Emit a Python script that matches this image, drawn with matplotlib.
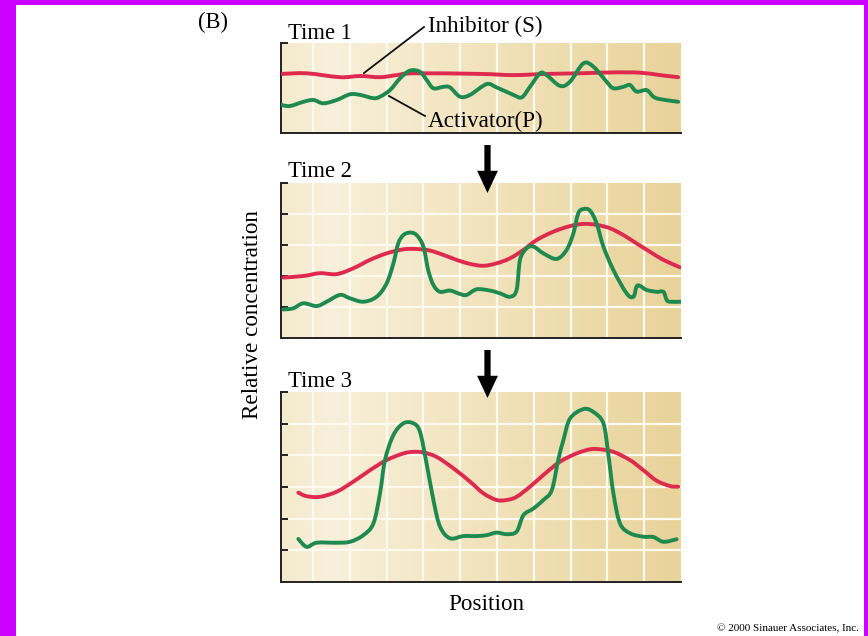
import numpy as np
import matplotlib
matplotlib.use("Agg")
import matplotlib.pyplot as plt
from matplotlib.patches import Rectangle, PathPatch, FancyArrowPatch
from matplotlib.path import Path
from matplotlib.colors import LinearSegmentedColormap

# ---------------- data (position 0-100, relative concentration) ----------------
t1_inh_x = [0.2, 6.4, 14.75, 19.75, 24.75, 28.9, 33.1, 49.75, 58.1, 66.4, 74.75, 83.1, 89.75, 94.75, 99.3]
t1_inh_y = [1.97, 1.99, 1.86, 1.90, 1.86, 1.93, 1.99, 1.97, 1.93, 1.97, 1.99, 2.02, 2.01, 1.93, 1.86]

t1_act_x = [0.2, 2.25, 5.6, 8.1, 10.6, 13.9, 17.25, 19.75, 23.1, 24.75, 27.25, 29.75, 32.25, 34.75,
            36.4, 38.1, 40.6, 42.25, 44.75, 47.25, 51.4, 53.9, 58.1, 60.2, 62.25, 64.75, 66.4, 69.75,
            72.25, 75.6, 78.1, 81.4, 83.1, 85.6, 87.25, 88.9, 91.4, 93.1, 94.75, 99.3]
t1_act_y = [0.93, 0.90, 1.04, 1.10, 0.99, 1.10, 1.29, 1.27, 1.16, 1.21, 1.43, 1.82, 2.08, 2.04,
            1.77, 1.49, 1.54, 1.52, 1.21, 1.27, 1.63, 1.52, 1.27, 1.19, 1.54, 1.99, 1.93, 1.57,
            1.71, 2.32, 2.21, 1.71, 1.49, 1.54, 1.60, 1.38, 1.43, 1.21, 1.13, 1.04]

t2_inh_x = [0.6, 5.6, 9.75, 13.9, 18.1, 22.25, 26.4, 30.6, 33.9, 37.25, 40.6, 43.9, 47.25, 50.6,
            53.9, 57.25, 60.6, 63.9, 68.1, 72.25, 75.6, 78.9, 82.25, 85.6, 88.9, 92.25, 95.6, 99.75]
t2_inh_y = [1.95, 2.00, 2.09, 2.06, 2.25, 2.52, 2.73, 2.86, 2.87, 2.82, 2.68, 2.52, 2.39, 2.33,
            2.41, 2.57, 2.84, 3.16, 3.43, 3.61, 3.68, 3.65, 3.54, 3.32, 3.05, 2.78, 2.52, 2.28]

t2_act_x = [0.6, 3.1, 5.6, 8.9, 11.4, 14.75, 17.25, 20.6, 23.9, 26.4, 28.1, 29.3, 30.6, 32.25,
            33.9, 35.6, 36.8, 38.1, 39.75, 42.25, 44.75, 46.4, 48.9, 52.25, 54.75, 57.25, 58.9,
            59.75, 61.4, 63.1, 65.6, 68.9, 71.4, 73.1, 74.3, 75.6, 77.25, 78.9, 80.6, 83.1, 86.4,
            88.1, 88.9, 89.75, 91.4, 93.9, 95.6, 96.4, 97.25, 99.9]
t2_act_y = [0.92, 0.96, 1.12, 1.03, 1.17, 1.39, 1.28, 1.17, 1.33, 1.76, 2.41, 3.05, 3.32, 3.40,
            3.32, 2.95, 2.19, 1.71, 1.49, 1.53, 1.42, 1.39, 1.57, 1.53, 1.44, 1.33, 1.55,
            2.52, 2.89, 2.95, 2.73, 2.55, 2.84, 3.38, 4.02, 4.16, 4.11, 3.70, 2.95, 2.19, 1.44,
            1.33, 1.66, 1.68, 1.55, 1.49, 1.49, 1.23, 1.17, 1.17]

t3_inh_x = [4.33, 6.4, 9.75, 13.9, 18.1, 22.25, 26.4, 30.6, 33.1, 35.6, 38.9, 43.1, 47.25, 50.6,
            53.9, 56.4, 58.9, 62.25, 65.6, 69.75, 73.9, 77.25, 79.75, 83.1, 87.25, 90.6, 93.9, 97.25, 99.3]
t3_inh_y = [2.82, 2.71, 2.69, 2.85, 3.17, 3.53, 3.85, 4.06, 4.11, 4.09, 3.95, 3.59, 3.17, 2.80,
            2.59, 2.59, 2.69, 3.01, 3.38, 3.80, 4.06, 4.19, 4.19, 4.11, 3.85, 3.53, 3.20, 3.03, 3.01]

t3_act_x = [4.33, 6.4, 8.9, 13.9, 17.25, 20.6, 23.1, 24.75, 26.0, 28.1, 30.6, 33.1, 34.75, 36.4,
            38.1, 39.75, 42.25, 45.6, 48.9, 51.4, 53.9, 56.4, 58.9, 60.6, 63.1, 65.6, 67.7, 69.3,
            70.6, 72.25, 75.6, 78.1, 80.6, 81.8, 83.1, 84.75, 87.25, 90.6, 93.1, 95.6, 98.9]
t3_act_y = [1.36, 1.11, 1.24, 1.24, 1.27, 1.48, 1.85, 2.80, 3.85, 4.64, 5.01, 5.01, 4.74, 3.74,
            2.59, 1.75, 1.38, 1.45, 1.45, 1.48, 1.56, 1.51, 1.59, 2.11, 2.32, 2.59, 2.90, 3.85,
            4.48, 5.16, 5.46, 5.37, 5.01, 4.06, 2.80, 1.85, 1.54, 1.43, 1.42, 1.27, 1.35]

panel_titles = ["Time 1", "Time 2", "Time 3"]
inh_label = "Inhibitor (S)"
act_label = "Activator(P)"
ylabel = "Relative concentration"
xlabel = "Position"
copyright_txt = "\u00a9 2000 Sinauer Associates, Inc."

# ---------------- style ----------------
W, H = 868, 636
RED = "#de2a4e"
GREEN = "#1f8a4f"
SERIF = ["Liberation Serif", "DejaVu Serif"]
FS = 16.3

fig = plt.figure(figsize=(W / 100, H / 100), dpi=100)
fig.patch.set_facecolor("white")


def fx(px):
    return px / W


def fy(py):
    return 1 - py / H


def smooth_path(xs, ys):
    """Catmull-Rom curve through the read points, drawn as cubic Bezier segments."""
    p = np.column_stack([xs, ys]).astype(float)
    n = len(p)
    verts = [p[0]]
    codes = [Path.MOVETO]
    for i in range(n - 1):
        p0 = p[i - 1] if i > 0 else p[i]
        p1 = p[i]
        p2 = p[i + 1]
        p3 = p[i + 2] if i + 2 < n else p[i + 1]
        c1 = p1 + (p2 - p0) / 6.0
        c2 = p2 - (p3 - p1) / 6.0
        verts += [c1, c2, p2]
        codes += [Path.CURVE4] * 3
    return Path(verts, codes)


# magenta frame
for (x0, y0, w, h) in [(0, 0, 16, H), (0, 0, W, 5), (864, 0, 4, H)]:
    fig.patches.append(Rectangle((fx(x0), fy(y0 + h)), w / W, h / H, transform=fig.transFigure,
                                 facecolor="#cc00ff", edgecolor="none", zorder=10))

bg_cmap = LinearSegmentedColormap.from_list(
    "bg", [(0.0, "#f4eacd"), (0.12, "#f8f0db"), (0.45, "#f2e5c0"), (1.0, "#e8d399")])
grad = np.linspace(0, 1, 256).reshape(1, -1)

panels = [
    (43, 133, 3, [3], [], t1_inh_x, t1_inh_y, t1_act_x, t1_act_y),
    (183, 338, 5, [1, 2, 3, 4, 5], [1, 2, 3, 4], t2_inh_x, t2_inh_y, t2_act_x, t2_act_y),
    (392, 582, 6, [1, 2, 3, 4, 5, 6], [1, 2, 3, 4, 5], t3_inh_x, t3_inh_y, t3_act_x, t3_act_y),
]

vgrid = np.arange(8, 99, 9.2)

for (top, bot, ymax, yt, hg, ix, iy, axx, ay) in panels:
    ax = fig.add_axes([fx(281), fy(bot), 400 / W, (bot - top) / H])
    ax.set_xlim(0, 100)
    ax.set_ylim(0, ymax)
    ax.imshow(grad, extent=[0, 1, 0, 1], transform=ax.transAxes, aspect="auto",
              cmap=bg_cmap, zorder=-2, interpolation="bicubic")
    for gx in vgrid:
        ax.axvline(gx, color="#fffaf0", lw=1.6, zorder=0)
    for gy in hg:
        ax.axhline(gy, color="#fffaf0", lw=1.6, zorder=0)
    for (xs, ys, col, z) in [(ix, iy, RED, 3), (axx, ay, GREEN, 4)]:
        ax.add_patch(PathPatch(smooth_path(xs, ys), facecolor="none", edgecolor=col, lw=2.8,
                               joinstyle="round", capstyle="round", zorder=z))
    ax.set_xticks([])
    ax.set_yticks(yt)
    ax.tick_params(axis="y", direction="in", length=5, width=1.4, color="#222222",
                   labelleft=False)
    for s in ["top", "right"]:
        ax.spines[s].set_visible(False)
    for s in ["left", "bottom"]:
        ax.spines[s].set_color("#222222")
        ax.spines[s].set_linewidth(1.4)

# titles
fig.text(fx(288), fy(39), panel_titles[0], family=SERIF, fontsize=FS, va="baseline", ha="left")
fig.text(fx(288), fy(177), panel_titles[1], family=SERIF, fontsize=FS, va="baseline", ha="left")
fig.text(fx(288), fy(387), panel_titles[2], family=SERIF, fontsize=FS, va="baseline", ha="left")
fig.text(fx(198), fy(28), "(B)", family=SERIF, fontsize=FS, va="baseline", ha="left")

# labels with leader lines
fig.text(fx(428), fy(32), inh_label, family=SERIF, fontsize=FS + 0.4, va="baseline", ha="left")
fig.text(fx(428), fy(127), act_label, family=SERIF, fontsize=FS + 0.4, va="baseline", ha="left")
fig.lines.append(plt.Line2D([fx(364), fx(424)], [fy(73), fy(27)], transform=fig.transFigure,
                            color="#111111", lw=1.3))
fig.lines.append(plt.Line2D([fx(389), fx(425)], [fy(96), fy(116)], transform=fig.transFigure,
                            color="#111111", lw=1.3))

# arrows between panels
for (y0, y1) in [(145, 193), (350, 398)]:
    fig.patches.append(FancyArrowPatch(
        (fx(487.5), fy(y0)), (fx(487.5), fy(y1)), transform=fig.transFigure,
        arrowstyle="simple,head_length=1.6,head_width=1.5,tail_width=0.45",
        mutation_scale=10, color="black", lw=0, shrinkA=0, shrinkB=0))

# axis labels
fig.text(fx(253), fy(315), ylabel, family=SERIF, fontsize=FS + 0.4, rotation=90, va="center", ha="center")
fig.text(fx(486), fy(605), xlabel, family=SERIF, fontsize=FS + 0.4, va="center", ha="center")
fig.text(fx(859), fy(629), copyright_txt, family=SERIF, fontsize=8, va="center", ha="right")

fig.savefig("out.png", dpi=100, facecolor="white")
